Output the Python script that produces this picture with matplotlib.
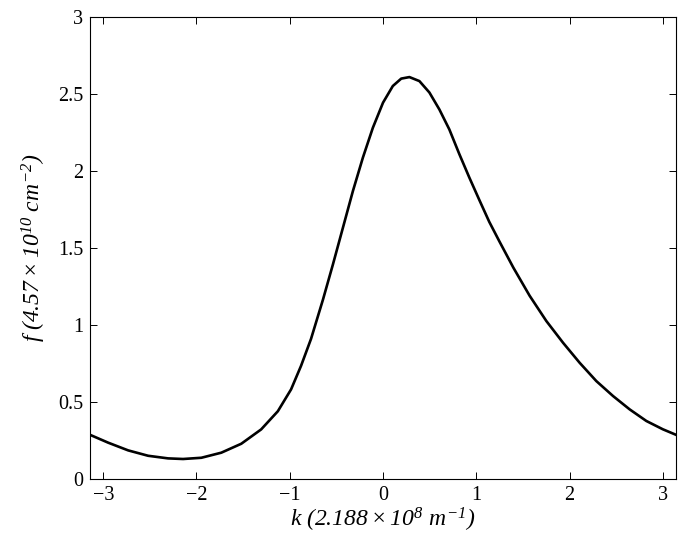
import numpy as np
import matplotlib
matplotlib.use('Agg')
import matplotlib.pyplot as plt

# values
k = [-3.1416, -2.947, -2.733, -2.519, -2.305, -2.144, -1.948, -1.734, -1.52, -1.307,
     -1.128, -0.986, -0.879, -0.772, -0.644, -0.537, -0.43, -0.323, -0.216, -0.109,
     0.0, 0.105, 0.195, 0.283, 0.39, 0.497, 0.604, 0.711, 0.818, 0.925,
     1.034, 1.139, 1.246, 1.397, 1.572, 1.751, 1.93, 2.108, 2.287, 2.466,
     2.645, 2.823, 3.0, 3.1416]
f = [0.287, 0.236, 0.186, 0.151, 0.134, 0.130, 0.138, 0.171, 0.229, 0.322,
     0.44, 0.582, 0.735, 0.91, 1.165, 1.394, 1.632, 1.87, 2.087, 2.281,
     2.444, 2.552, 2.60, 2.61, 2.584, 2.51, 2.40, 2.27, 2.11, 1.958,
     1.81, 1.67, 1.545, 1.373, 1.19, 1.026, 0.885, 0.755, 0.636, 0.539,
     0.452, 0.377, 0.323, 0.287]

xticks = [-3, -2, -1, 0, 1, 2, 3]
xticklabels = ['\u22123', '\u22122', '\u22121', '0', '1', '2', '3']
yticks = [0, 0.5, 1, 1.5, 2, 2.5, 3]
yticklabels = ['0', '0.5', '1', '1.5', '2', '2.5', '3']

plt.rcParams['font.family'] = ['Liberation Serif', 'DejaVu Serif']
plt.rcParams['mathtext.fontset'] = 'custom'
plt.rcParams['mathtext.rm'] = 'Liberation Serif:italic'
plt.rcParams['mathtext.it'] = 'Liberation Serif:italic'

fig = plt.figure(figsize=(6.81, 5.42), dpi=100)
ax = fig.add_axes([0.1322, 0.1162, 0.8605, 0.8524])

ax.plot(k, f, color='k', linewidth=1.9, solid_joinstyle='round')

ax.set_xlim(-np.pi, np.pi)
ax.set_ylim(0, 3)
ax.set_xticks(xticks)
ax.set_xticklabels(xticklabels)
ax.set_yticks(yticks)
ax.set_yticklabels(yticklabels)
ax.tick_params(direction='in', top=True, right=True, length=5, width=0.7,
               labelsize=14.5, pad=5)
for s in ax.spines.values():
    s.set_linewidth(0.8)

ax.set_xlabel(r'$k\ (2.188\times 10^{8}\ m^{-1})$', fontsize=17, labelpad=1)
ax.set_ylabel(r'$f\ (4.57\times 10^{10}\ cm^{-2})$', fontsize=17, labelpad=7)

fig.savefig('out.png', dpi=100)
